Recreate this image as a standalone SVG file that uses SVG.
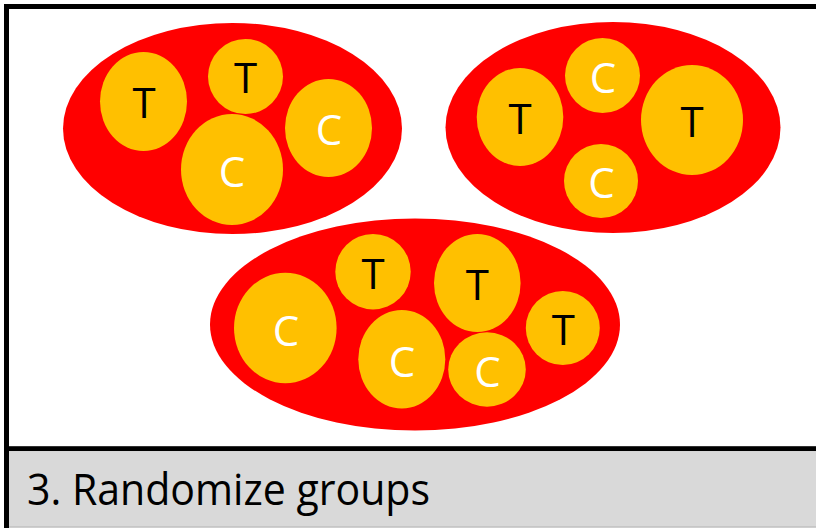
<svg xmlns="http://www.w3.org/2000/svg" width="816" height="528" viewBox="0 0 816 528">
  <style>
    .grp { fill: #FF0000; }
    .unit { fill: #FFC000; }
    .lbl { font-family: "Open Sans", "Liberation Sans", sans-serif; font-size: 42px; text-anchor: middle; }
    .t { fill: #000000; }
    .c { fill: #FFFFFF; }
    .caption { font-family: "Open Sans", "Liberation Sans", sans-serif; font-size: 44px; fill: #000000; }
  </style>

  <!-- panel frame -->
  <rect x="0" y="0" width="816" height="528" fill="#FFFFFF"/>
  <rect x="6.5" y="6.5" width="830" height="442.2" fill="#FFFFFF" stroke="#000000" stroke-width="5"/>

  <!-- caption bar -->
  <g id="caption">
    <rect x="9" y="451.2" width="810" height="75.8" fill="#D9D9D9"/>
    <line x1="9" y1="527" x2="816" y2="527" stroke="#BFBFBF" stroke-width="1.5"/>
    <line x1="6.5" y1="446" x2="6.5" y2="528" stroke="#000000" stroke-width="5"/>
    <text class="caption" x="27" y="505" textLength="403" lengthAdjust="spacingAndGlyphs">3. Randomize groups</text>
  </g>

  <!-- group 1 -->
  <g id="group1">
    <ellipse class="grp" cx="232.5" cy="128.5" rx="169.5" ry="105.5"/>
    <g id="g1-t1">
      <ellipse class="unit" cx="143.5" cy="101.5" rx="43.5" ry="49.5"/>
      <text class="lbl t" x="144" y="118">T</text>
    </g>
    <g id="g1-t2">
      <ellipse class="unit" cx="245.5" cy="76.5" rx="37.5" ry="37.5"/>
      <text class="lbl t" x="245.5" y="93">T</text>
    </g>
    <g id="g1-c1">
      <ellipse class="unit" cx="232" cy="169.5" rx="51" ry="55.5"/>
      <text class="lbl c" x="232" y="187">C</text>
    </g>
    <g id="g1-c2">
      <ellipse class="unit" cx="328.5" cy="128" rx="43.5" ry="49"/>
      <text class="lbl c" x="329" y="145">C</text>
    </g>
  </g>

  <!-- group 2 -->
  <g id="group2">
    <ellipse class="grp" cx="613" cy="127.5" rx="167.5" ry="105.5"/>
    <g id="g2-t1">
      <ellipse class="unit" cx="520" cy="117" rx="43.3" ry="49"/>
      <text class="lbl t" x="520" y="134">T</text>
    </g>
    <g id="g2-c1">
      <ellipse class="unit" cx="602.5" cy="75.5" rx="37.5" ry="37.5"/>
      <text class="lbl c" x="603" y="93">C</text>
    </g>
    <g id="g2-c2">
      <ellipse class="unit" cx="601" cy="181" rx="37" ry="37"/>
      <text class="lbl c" x="601.5" y="198">C</text>
    </g>
    <g id="g2-t2">
      <ellipse class="unit" cx="692" cy="120" rx="51" ry="55"/>
      <text class="lbl t" x="692" y="137">T</text>
    </g>
  </g>

  <!-- group 3 -->
  <g id="group3">
    <ellipse class="grp" cx="415" cy="324.5" rx="205" ry="106"/>
    <g id="g3-c1">
      <ellipse class="unit" cx="285.3" cy="328" rx="51.3" ry="55.3"/>
      <text class="lbl c" x="286" y="345.5">C</text>
    </g>
    <g id="g3-t1">
      <ellipse class="unit" cx="373" cy="271.7" rx="37.7" ry="37.7"/>
      <text class="lbl t" x="373" y="288.5">T</text>
    </g>
    <g id="g3-t2">
      <ellipse class="unit" cx="477.3" cy="283" rx="43.3" ry="49"/>
      <text class="lbl t" x="477.3" y="299.5">T</text>
    </g>
    <g id="g3-c2">
      <ellipse class="unit" cx="401.8" cy="359.2" rx="43.5" ry="49.2"/>
      <text class="lbl c" x="402" y="376.5">C</text>
    </g>
    <g id="g3-c3">
      <ellipse class="unit" cx="487" cy="369.5" rx="38.8" ry="37.2"/>
      <text class="lbl c" x="487.5" y="386.5">C</text>
    </g>
    <g id="g3-t3">
      <ellipse class="unit" cx="562.8" cy="328" rx="37" ry="37"/>
      <text class="lbl t" x="563.3" y="345">T</text>
    </g>
  </g>
</svg>
